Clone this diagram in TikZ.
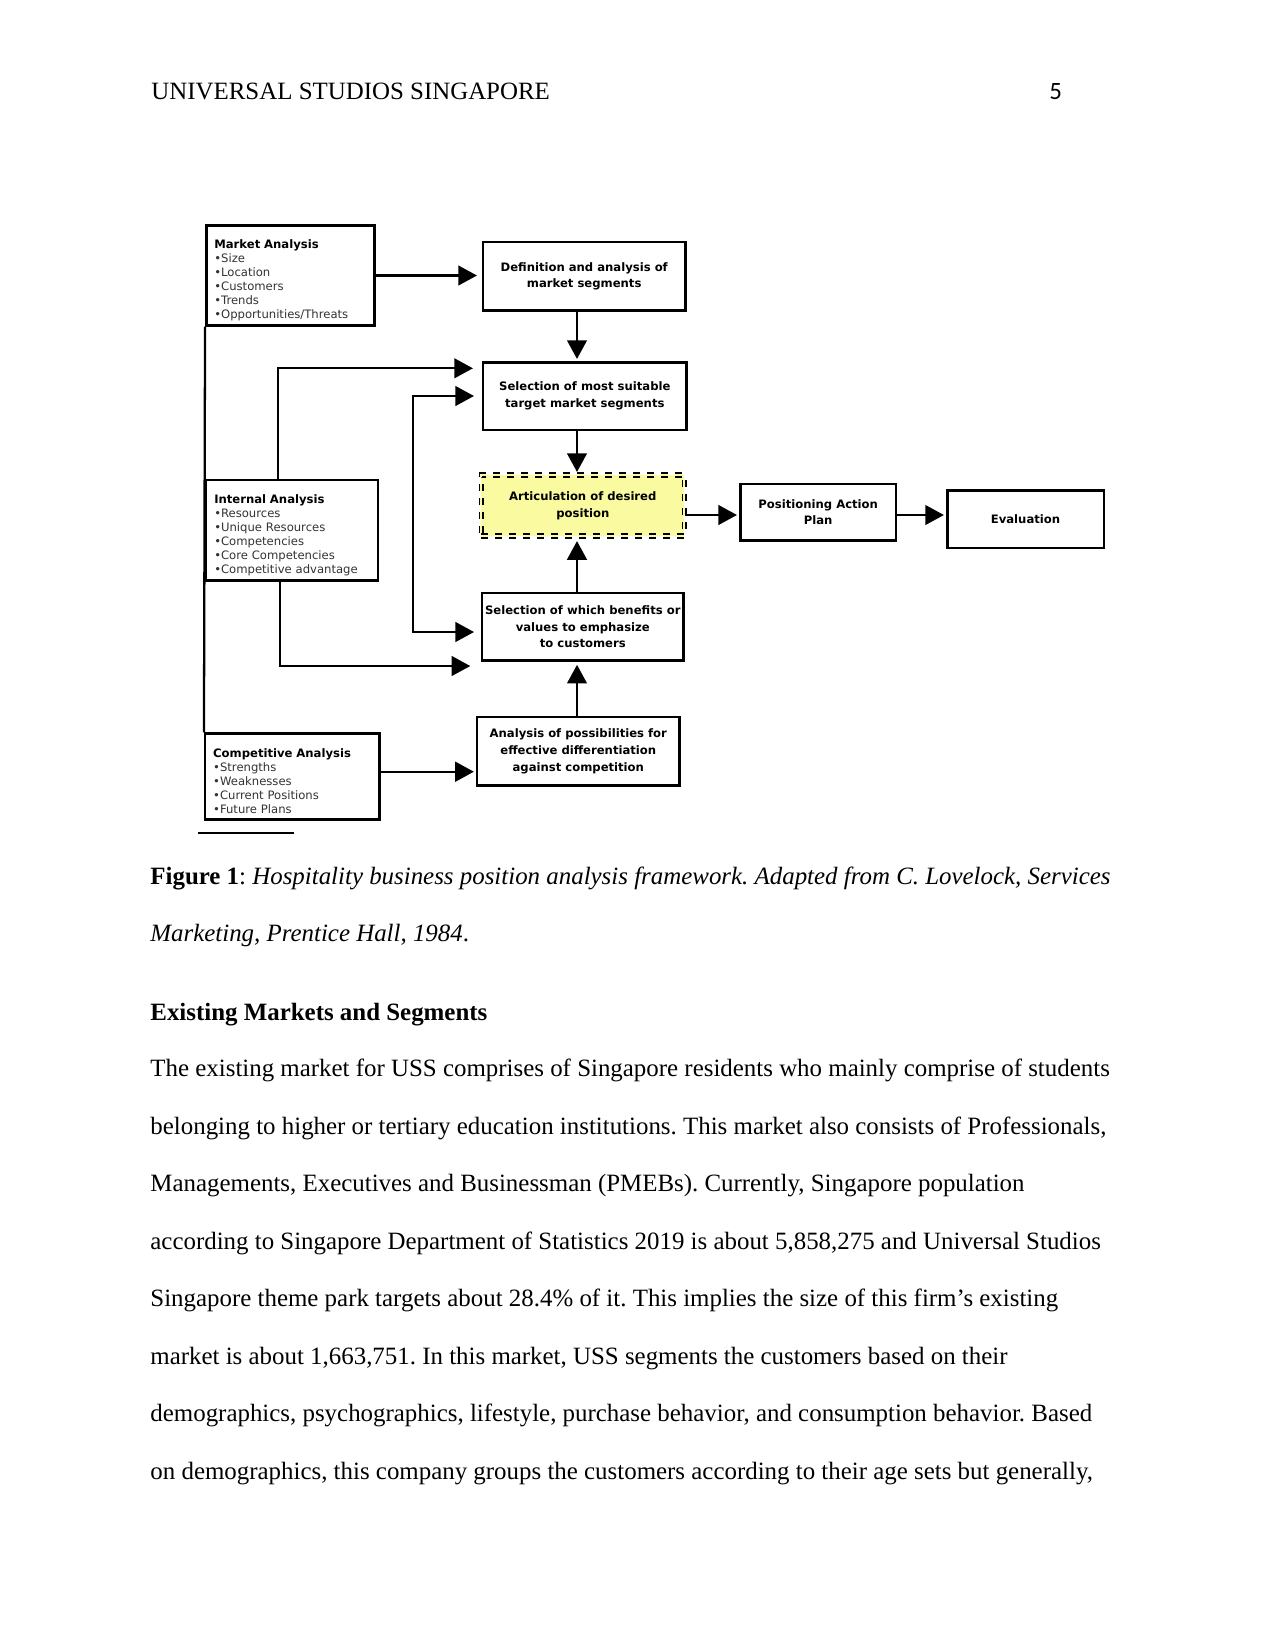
\documentclass[tikz,border=0pt]{standalone}
\usepackage{fontspec}
\setmainfont{Liberation Serif}
\newfontfamily\diagfont{DejaVu Sans}
\newfontfamily\pagefont{Carlito}
\usepackage{xcolor}
\usetikzlibrary{arrows.meta}
\newdimen\pxu \pxu=0.169333mm
\definecolor{artfill}{RGB}{250,250,160}
\frenchspacing

\begin{document}
\begin{tikzpicture}[x=0.169333mm,y=-0.169333mm,
  stepbox/.style={draw,line width=1.2pt,align=center,inner sep=0pt,font=\diagfont\bfseries\fontsize{5.6}{8}\selectfont},
  listbox/.style={draw,line width=1.2pt,align=left,inner xsep=8\pxu,inner ysep=0pt,text=black!80,font=\diagfont\fontsize{5.6}{6.8}\selectfont},
  artbox/.style={stepbox,fill=artfill,line width=0.9pt,double=artfill,double distance=0.9pt,dash pattern=on 7\pxu off 7\pxu},
  flow/.style={line width=1.1pt,-{Triangle[length=9pt,width=9.5pt]},shorten >=1pt},
  twoway/.style={flow,{Triangle[length=9pt,width=9.5pt]}-{Triangle[length=9pt,width=9.5pt]}},
  bodytext/.style={anchor=base west,inner sep=0pt,font=\fontsize{12}{14}\selectfont}]
  \path[fill=white] (0,0) rectangle (1275,1651);
  \useasboundingbox (0,0) rectangle (1275,1651);

  \node[bodytext] (header) at (151,99.5) {UNIVERSAL STUDIOS SINGAPORE};
  \node[bodytext,font=\pagefont\fontsize{12}{14}\selectfont] (pagenum) at (1049,99.5) {5};

  \node[listbox,text width=152.2\pxu,minimum height=99.9\pxu] (market) at (290.4,275.5)
    {\rule{0pt}{9pt}\textcolor{black}{\bfseries Market Analysis}\\•Size\\•Location\\•Customers\\•Trends\\•Opportunities/Threats};
  \node[listbox,text width=155.5\pxu,minimum height=100.2\pxu] (internal) at (292,530.3)
    {\rule{0pt}{9pt}\textcolor{black}{\bfseries Internal Analysis}\\•Resources\\•Unique Resources\\•Competencies\\•Core Competencies\\•Competitive advantage};
  \node[listbox,text width=158.2\pxu,minimum height=85.9\pxu] (compet) at (292.3,776.5)
    {\rule{0pt}{9pt}\textcolor{black}{\bfseries Competitive Analysis}\\•Strengths\\•Weaknesses\\•Current Positions\\•Future Plans};

  \node[stepbox,minimum width=202.5\pxu,minimum height=68.2\pxu] (defn) at (584.2,276.3) {Definition and analysis of\\market segments};
  \node[stepbox,minimum width=203.8\pxu,minimum height=67.5\pxu] (select) at (584.8,396) {Selection of most suitable\\target market segments};
  \node[artbox,minimum width=203\pxu,minimum height=61\pxu] (artic) at (582.8,505.5) {Articulation of desired\\position};
  \node[stepbox,minimum width=201.8\pxu,minimum height=67.5\pxu] (benefit) at (582.8,626.7) {Selection of which benefits or\\values to emphasize\\to customers};
  \node[stepbox,minimum width=202.2\pxu,minimum height=68.2\pxu] (analysis) at (578.3,751.3) {Analysis of possibilities for\\effective differentiation\\against competition};
  \node[stepbox,minimum width=155.8\pxu,minimum height=56.5\pxu] (plan) at (818.2,512.2) {Positioning Action\\Plan};
  \node[stepbox,minimum width=156.5\pxu,minimum height=57.5\pxu] (evalu) at (1025.5,519.3) {Evaluation};

  \coordinate (spine) at (577,0);
  \coordinate (row) at (0,515);
  \coordinate (upin) at (0,368.3);
  \coordinate (lowin) at (0,632);
  \coordinate (botin) at (0,666);
  \coordinate (compin) at (0,771.7);
  \coordinate (tapA) at (278,0);
  \coordinate (tapB) at (280,0);
  \coordinate (loop) at (412.7,0);

  \draw[flow,shorten >=2.3pt] (market.east) -- (market.east -| defn.west);
  \draw[flow] (defn.south -| spine) -- (select.north -| spine);
  \draw[flow] (select.south -| spine) -- (artic.north -| spine);
  \draw[flow,shorten >=2pt] (benefit.north -| spine) -- (artic.south -| spine);
  \draw[flow,shorten >=1.5pt] (analysis.north -| spine) -- (benefit.south -| spine);
  \draw[flow] (artic.east |- row) -- (plan.west |- row);
  \draw[flow] (plan.east |- row) -- (evalu.west |- row);
  \draw[flow] (compet.east |- compin) -- (analysis.west |- compin);
  \draw[line width=1.1pt] (market.south west) -- (compet.north west);
  \draw[flow,shorten >=4.2pt] (internal.north -| tapA) |- (select.west |- upin);
  \draw[flow,shorten >=5pt] (internal.south -| tapB) |- (benefit.west |- botin);
  \draw[twoway,shorten <=3.7pt,shorten >=3.2pt] (select.west) -- (select.west -| loop) |- (benefit.west |- lowin);

  \draw[line width=0.8pt] (198,833.3) -- (294,833.3);

  \node[bodytext] (cap1) at (150,884.3) {\textbf{Figure 1}: \textit{Hospitality business position analysis framework. Adapted from C. Lovelock, Services}};
  \node[bodytext] (cap2) at (150,941) {\textit{Marketing, Prentice Hall, 1984}.};
  \node[bodytext] (heading) at (150,1020) {\textbf{Existing Markets and Segments}};
  \foreach \ln [count=\k from 0] in {
    {The existing market for USS comprises of Singapore residents who mainly comprise of students},
    {belonging to higher or tertiary education institutions. This market also consists of Professionals,},
    {Managements, Executives and Businessman (PMEBs). Currently, Singapore population},
    {according to Singapore Department of Statistics 2019 is about 5,858,275 and Universal Studios},
    {Singapore theme park targets about 28.4\% of it. This implies the size of this firm’s existing},
    {market is about 1,663,751. In this market, USS segments the customers based on their},
    {demographics, psychographics, lifestyle, purchase behavior, and consumption behavior. Based},
    {on demographics, this company groups the customers according to their age sets but generally,}}
    \node[bodytext] (body\k) at (150,{1076.7+57.5*\k}) {\ln};
\end{tikzpicture}
\end{document}
